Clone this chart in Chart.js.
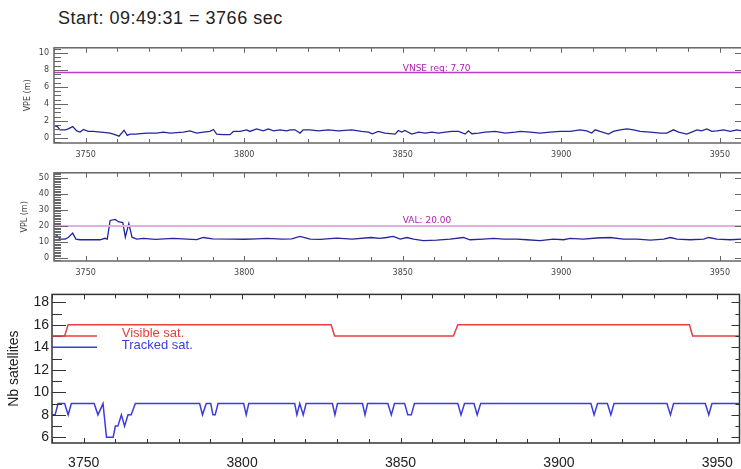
<!DOCTYPE html>
<html>
<head>
<meta charset="utf-8">
<script src="https://cdn.jsdelivr.net/npm/chart.js@4.4.1/dist/chart.umd.min.js"></script>
<style>
  body { margin: 0; background: #fff; width: 741px; height: 469px; overflow: hidden; position: relative; }
  #title { position: absolute; left: 58px; top: 8px; line-height: 22px; font: 18px "Liberation Sans", Arial, sans-serif; letter-spacing: 0.5px; color: #222; }
  canvas { position: absolute; left: 0; }
</style>
</head>
<body>
<div id="title"></div>
<canvas id="vpe" width="745" height="132" style="top:38px"></canvas>
<canvas id="vpl" width="745" height="120" style="top:163px"></canvas>
<canvas id="sat" width="745" height="186" style="top:283px"></canvas>
<script>
const startLabel = 'Start: 09:49:31 = 3766 sec';
const xTicks = [3750, 3800, 3850, 3900, 3950];
const vpeTicks = [0, 2, 4, 6, 8, 10];
const vplTicks = [0, 10, 20, 30, 40, 50];
const satTicks = [6, 8, 10, 12, 14, 16, 18];
const vnseReq = 7.7;
const valLimit = 20.0;

// VPE (m)
const vpeT = [3740, 3741.1, 3741.9, 3743.5, 3744.5, 3745.9, 3747.2, 3748.2, 3749.3, 3750.8, 3752.4, 3755.6,
  3757.7, 3759.2, 3760.5, 3762.1, 3763.1, 3764, 3765.6, 3769.2, 3772.4, 3774.5, 3776.6, 3780.8, 3782.9,
  3785, 3787.1, 3789.2, 3790.3, 3791.3, 3793.4, 3795.5, 3796.6, 3798.7, 3800.8, 3801.8, 3803.9, 3806,
  3807.6, 3809.2, 3811.3, 3813.4, 3814.5, 3816, 3817.6, 3818.6, 3820.7, 3823.4, 3826.5, 3829.7, 3833.9,
  3837, 3839.2, 3840.4, 3842.3, 3844.4, 3847.6, 3848.6, 3849.7, 3850.7, 3852.8, 3855, 3857.1, 3859.2,
  3861.3, 3863.4, 3865.5, 3867.6, 3869.7, 3870.7, 3871.8, 3873.9, 3876, 3879.2, 3882.3, 3885.5, 3887,
  3890.2, 3893.3, 3896.5, 3899.6, 3902.8, 3905.9, 3908, 3909.6, 3910.7, 3912.2, 3914.9, 3916.4, 3918.6,
  3920.7, 3922.8, 3924.9, 3928, 3931.2, 3933.3, 3935.4, 3937, 3939.6, 3941.7, 3942.8, 3944.3, 3945.9,
  3947.5, 3949.1, 3951.2, 3953.3, 3955.4, 3957];
const vpeV = [1.45, 1.33, 0.95, 0.95, 1.06, 1.33, 0.83, 0.68, 0.99, 0.76, 0.76, 0.64,
  0.57, 0.38, 0.2, 0.9, 0.3, 0.45, 0.45, 0.57, 0.57, 0.68, 0.57, 0.68, 0.83,
  0.57, 0.68, 0.76, 0.99, 0.45, 0.38, 0.38, 0.76, 0.76, 0.95, 0.76, 1.06, 0.83,
  1.06, 0.83, 0.95, 0.83, 0.95, 0.95, 0.57, 0.95, 0.95, 0.83, 0.95, 0.83, 0.95,
  0.76, 0.68, 0.49, 0.76, 0.57, 0.45, 0.87, 0.68, 0.87, 0.45, 0.68, 0.57, 0.68,
  0.57, 0.68, 0.76, 0.76, 0.45, 0.83, 0.49, 0.57, 0.68, 0.76, 0.57, 0.68, 0.76,
  0.68, 0.57, 0.68, 0.76, 0.76, 0.95, 0.83, 0.57, 0.95, 0.76, 0.45, 0.76, 0.95,
  1.06, 0.95, 0.76, 0.68, 0.57, 0.57, 0.95, 0.68, 0.45, 0.76, 0.95, 0.83, 1.06,
  0.76, 0.83, 0.95, 0.76, 0.95, 0.83];

// VPL (m)
const vplT = [3740, 3740.8, 3741.9, 3743.5, 3744.5, 3745.9, 3746.9, 3748.2, 3751.4, 3754.5, 3756.1, 3756.8,
  3757.7, 3759.3, 3760.3, 3761, 3761.7, 3762.5, 3763.6, 3764.6, 3766.1, 3768.2, 3772, 3777.6, 3782, 3785,
  3787.1, 3790, 3796.6, 3800, 3804, 3807.1, 3812, 3815, 3817.6, 3820.8, 3824, 3826, 3829.2, 3834, 3840,
  3842.8, 3844.9, 3847, 3849.2, 3851.3, 3853.4, 3856.5, 3860.7, 3864.9, 3869.1, 3871.2, 3875.4, 3878.6,
  3881.8, 3886, 3889.1, 3893.3, 3897.5, 3900.7, 3902.8, 3907, 3911.2, 3915.4, 3919.6, 3923.9, 3928.1,
  3932.3, 3934.4, 3936.5, 3940.7, 3944.9, 3946.5, 3949.1, 3953.3, 3957];
const vplV = [14.9, 14.3, 11.8, 11.8, 12.8, 15.5, 11.8, 11.4, 11.4, 11.4, 12.3, 11.8,
  23.4, 24.0, 22.6, 22.4, 22.1, 13.0, 21.5, 13.0, 11.8, 12.2, 11.6, 12.2, 11.8, 11.5,
  12.8, 11.9, 11.8, 11.7, 12.0, 12.2, 11.8, 12.0, 13.5, 11.8, 11.6, 12.0, 12.4, 11.8, 12.8,
  12.2, 12.8, 13.5, 11.8, 12.8, 11.8, 10.8, 11.2, 11.8, 12.8, 11.4, 11.8, 12.2,
  11.8, 11.8, 11.4, 10.8, 11.8, 11.4, 12.2, 11.8, 12.5, 12.8, 11.8, 11.8, 11.2,
  11.8, 12.8, 11.8, 11.4, 11.8, 12.8, 11.8, 11.4, 11.8];

// Nb satellites
const visT = [3740, 3744, 3745.1, 3828.1, 3829.2, 3866.7, 3868.1, 3941.2, 3942.2, 3957];
const visN = [15, 15, 16, 16, 15, 15, 16, 16, 15, 15];
const trkT = [3740, 3741, 3741.9, 3744, 3745.1, 3746.1, 3753.3, 3754.5, 3756.1, 3757.2, 3759.3, 3760,
  3760.8, 3761.9, 3762.9, 3764, 3765, 3766.3, 3786.6, 3787.5, 3788.7, 3790.1, 3790.8, 3791.5, 3792.4,
  3800.5, 3801.3, 3802.1, 3816.6, 3817.3, 3818.2, 3819.3, 3820.2, 3828.5, 3829.3, 3830.1, 3838, 3838.8,
  3839.6, 3846, 3847.1, 3848.1, 3851.3, 3852.3, 3853.4, 3854.4, 3868.1, 3869.1, 3870.2, 3873.2, 3874.2,
  3875.3, 3910.1, 3911.1, 3912.2, 3915.3, 3916.4, 3917.4, 3934.1, 3935.2, 3936.2, 3946.2, 3947.3, 3948.3, 3957];
const trkN = [8, 8, 9, 9, 8, 9, 9, 8, 9, 6, 6, 7,
  7, 8, 7, 8, 8, 9, 9, 8, 9, 9, 8, 8, 9,
  9, 8, 9, 9, 8, 9, 8, 9, 9, 8, 9, 9, 8,
  9, 9, 8, 9, 9, 8, 8, 9, 9, 8, 9, 9, 8,
  9, 9, 8, 9, 9, 8, 9, 9, 8, 9, 9, 8, 9, 9];

document.getElementById('title').textContent = startLabel;
Chart.defaults.font.family = 'DejaVu Sans';

function pts(ts, vs) { return ts.map((t, i) => ({ x: t, y: vs[i] })); }

// IDL style frame with inward ticks
const idlFrame = {
  id: 'idlFrame',
  afterDatasetsDraw(chart, args, o) {
    const { ctx, chartArea: a, scales: { x, y } } = chart;
    ctx.save();
    ctx.strokeStyle = o.color;
    ctx.lineWidth = o.width;
    ctx.strokeRect(a.left, a.top, a.right - a.left, a.bottom - a.top);
    ctx.lineWidth = 1;
    ctx.beginPath();
    for (let k = Math.ceil(x.min / 10); k * 10 <= x.max; k++) {
      const px = Math.round(x.getPixelForValue(k * 10)) + 0.5;
      const len = k % 5 === 0 ? o.xMajorLen : o.xMinorLen;
      ctx.moveTo(px, a.bottom); ctx.lineTo(px, a.bottom - len);
      ctx.moveTo(px, a.top); ctx.lineTo(px, a.top + len);
    }
    for (let k = Math.ceil(y.min / o.yMinor); k * o.yMinor <= y.max + 1e-9; k++) {
      const v = k * o.yMinor;
      const major = Math.abs(v / o.yMajor - Math.round(v / o.yMajor)) < 1e-6;
      const py = Math.round(y.getPixelForValue(v)) + 0.5;
      ctx.moveTo(a.left, py); ctx.lineTo(a.left + (major ? o.yMajorLen : o.yMinorLen), py);
      const r = major ? o.rMajorLen : o.rMinorLen;
      if (r > 0) { ctx.moveTo(a.right, py); ctx.lineTo(a.right - r, py); }
    }
    ctx.stroke();
    ctx.restore();
  }
};

// text notes and legend samples
const notes = {
  id: 'notes',
  afterDatasetsDraw(chart, args, o) {
    const { ctx, scales: { x, y } } = chart;
    ctx.save();
    (o.lines || []).forEach(l => {
      ctx.strokeStyle = l.color; ctx.lineWidth = l.width;
      ctx.beginPath();
      ctx.moveTo(x.getPixelForValue(l.x0), y.getPixelForValue(l.y));
      ctx.lineTo(x.getPixelForValue(l.x1), y.getPixelForValue(l.y));
      ctx.stroke();
    });
    (o.items || []).forEach(t => {
      ctx.fillStyle = t.color; ctx.font = t.font;
      ctx.textAlign = 'left'; ctx.textBaseline = 'middle';
      ctx.fillText(t.text, x.getPixelForValue(t.x), y.getPixelForValue(t.y));
    });
    ctx.restore();
  }
};

function panel(id, o) {
  return new Chart(document.getElementById(id), {
    type: 'line',
    data: { datasets: o.datasets },
    options: {
      responsive: false,
      animation: false,
      events: [],
      layout: { padding: { top: o.padTop, left: 0, right: 3, bottom: 0 } },
      elements: { point: { radius: 0 }, line: { tension: 0 } },
      plugins: {
        legend: { display: false },
        tooltip: { enabled: false },
        idlFrame: o.frame,
        notes: o.notes
      },
      scales: {
        x: {
          type: 'linear', min: 3740, max: 3957,
          afterBuildTicks: s => { s.ticks = xTicks.map(v => ({ value: v })); },
          afterFit: s => { s.height = o.xHeight; },
          grid: { display: false, drawTicks: false },
          border: { display: false },
          ticks: { padding: o.xPad, color: o.tickColor, font: o.tickFont, maxRotation: 0, autoSkip: false, callback: v => String(v) }
        },
        y: {
          type: 'linear', min: o.yMin, max: o.yMax,
          afterBuildTicks: s => { s.ticks = o.yTicks.map(v => ({ value: v })); },
          afterFit: s => { s.width = o.yWidth; },
          grid: { display: false, drawTicks: false },
          border: { display: false },
          ticks: { padding: o.yPad, color: o.tickColor, font: o.tickFont, autoSkip: false, callback: v => String(v) },
          title: { display: true, text: o.yTitle, color: o.tickColor, font: o.titleFont, padding: { top: o.titlePad, bottom: 0 } }
        }
      }
    },
    plugins: [idlFrame, notes]
  });
}

const smallFont = { size: 8 };

panel('vpe', {
  padTop: 7, xHeight: 27, yWidth: 54, xPad: 7, yPad: 5,
  yMin: -0.6, yMax: 10.6, yTicks: vpeTicks, yTitle: 'VPE (m)', titlePad: 23,
  tickColor: '#444', tickFont: smallFont, titleFont: smallFont,
  frame: { color: '#666', width: 1.5, xMajorLen: 5, xMinorLen: 4, yMinor: 0.5, yMajor: 2, yMajorLen: 14, yMinorLen: 7, rMajorLen: 7, rMinorLen: 0 },
  notes: { items: [{ text: 'VNSE req: 7.70', x: 3850, y: 8.2, color: '#b020b0', font: '9px "DejaVu Sans"' }] },
  datasets: [
    { data: pts([3740, 3957], [vnseReq, vnseReq]), borderColor: '#b83cc8', borderWidth: 1.6 },
    { data: pts(vpeT, vpeV), borderColor: '#25259a', borderWidth: 1.3 }
  ]
});

panel('vpl', {
  padTop: 7, xHeight: 22, yWidth: 54, xPad: 7, yPad: 5,
  yMin: -1.8, yMax: 53, yTicks: vplTicks, yTitle: 'VPL (m)', titlePad: 20,
  tickColor: '#444', tickFont: smallFont, titleFont: smallFont,
  frame: { color: '#666', width: 1.5, xMajorLen: 5, xMinorLen: 4, yMinor: 1, yMajor: 10, yMajorLen: 14, yMinorLen: 7, rMajorLen: 7, rMinorLen: 0 },
  notes: { items: [{ text: 'VAL: 20.00', x: 3850, y: 23.4, color: '#b020b0', font: '9px "DejaVu Sans"' }] },
  datasets: [
    { data: pts([3740, 3957], [valLimit, valLimit]), borderColor: '#e2aee6', borderWidth: 2 },
    { data: pts(vplT, vplV), borderColor: '#25259a', borderWidth: 1.3 }
  ]
});

panel('sat', {
  padTop: 8, xHeight: 26, yWidth: 52, xPad: 12, yPad: 3,
  yMin: 5.5, yMax: 18.7, yTicks: satTicks, yTitle: 'Nb satellites', titlePad: 6,
  tickColor: '#222', tickFont: { size: 14, family: 'Liberation Sans' }, titleFont: { size: 14, family: 'Liberation Sans' },
  frame: { color: '#333', width: 1.5, xMajorLen: 5, xMinorLen: 4, yMinor: 1, yMajor: 2, yMajorLen: 14, yMinorLen: 10, rMajorLen: 8, rMinorLen: 4 },
  notes: {
    lines: [
      { x0: 3740, x1: 3754.2, y: 15, color: '#e53f3f', width: 1.5 },
      { x0: 3740, x1: 3754.2, y: 14, color: '#3b3bdf', width: 1.5 }
    ],
    items: [
      { text: 'Visible sat.', x: 3762, y: 15.25, color: '#e53f3f', font: '13px "Liberation Sans"' },
      { text: 'Tracked sat.', x: 3762, y: 14.2, color: '#3b3bdf', font: '13px "Liberation Sans"' }
    ]
  },
  datasets: [
    { data: pts(visT, visN), borderColor: '#e53f3f', borderWidth: 1.5 },
    { data: pts(trkT, trkN), borderColor: '#3b3bdf', borderWidth: 1.5 }
  ]
});
</script>
</body>
</html>
